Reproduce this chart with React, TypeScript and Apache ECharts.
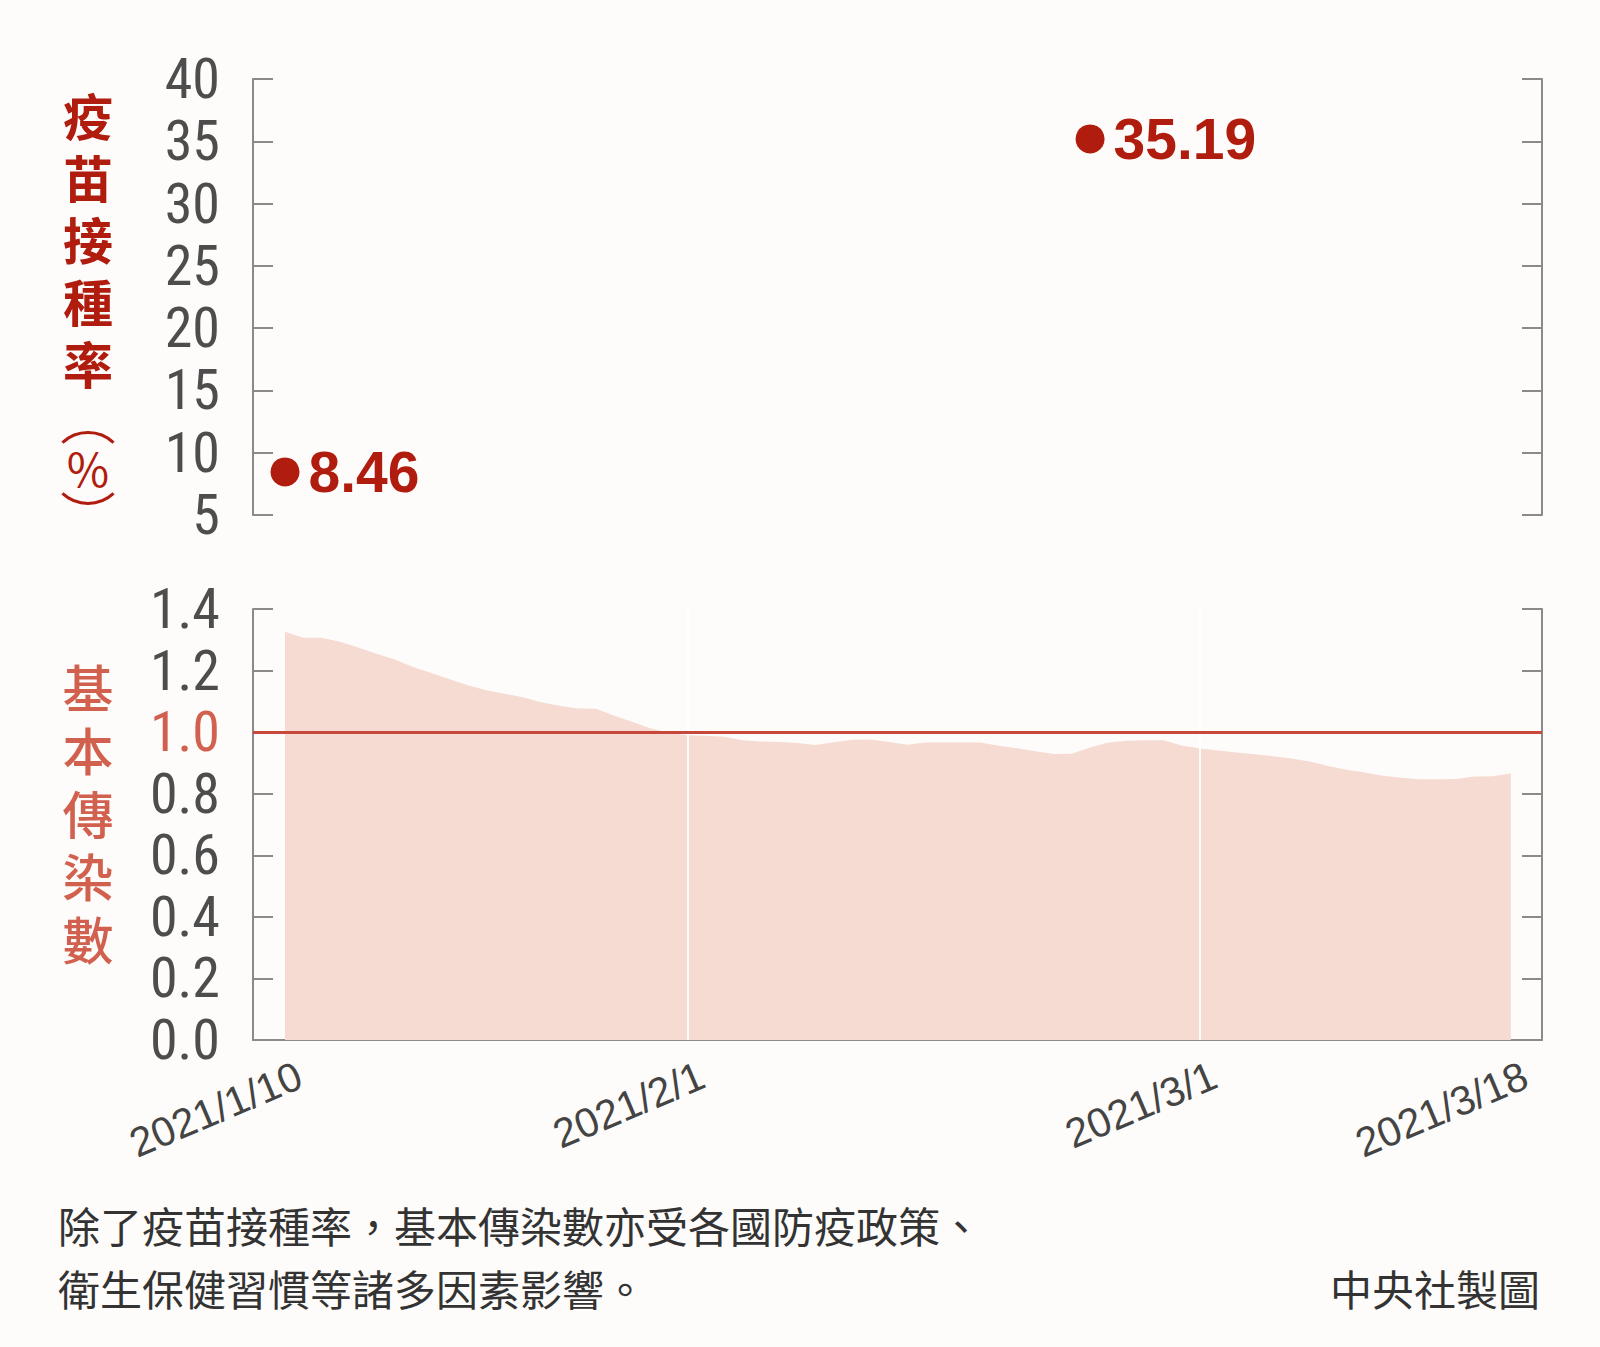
import { useEffect, useRef } from 'react';
import * as echarts from 'echarts';

// 基本傳染數 (Rt), one value per day starting 2021/1/10
const startDate = '2021-01-10';
const rtValues = [
    1.326, 1.307, 1.307, 1.294, 1.275, 1.255, 1.236, 1.212, 1.192, 1.172,
    1.152, 1.136, 1.125, 1.113, 1.097, 1.086, 1.077, 1.076, 1.053, 1.033,
    1.012, 0.998, 0.990, 0.988, 0.985, 0.974, 0.970, 0.968, 0.965, 0.958,
    0.967, 0.975, 0.976, 0.968, 0.959, 0.966, 0.966, 0.966, 0.966, 0.956,
    0.948, 0.938, 0.929, 0.930, 0.950, 0.966, 0.972, 0.974, 0.974, 0.957,
    0.947, 0.940, 0.934, 0.928, 0.922, 0.914, 0.905, 0.890, 0.878, 0.869,
    0.858, 0.852, 0.847, 0.847, 0.848, 0.856, 0.857, 0.866
];

// 疫苗接種率 (%)
const vaccineDates = ['2021-01-10', '2021-02-23'];
const vaccineValues = [8.46, 35.19];

const xLabelDates = ['2021-01-10', '2021-02-01', '2021-03-01', '2021-03-18'];
const xSplitDates = ['2021-02-01', '2021-03-01'];

const rateTicks = { min: 5, max: 40, interval: 5 };
const rtTicks = { min: 0, max: 1.4, interval: 0.2 };

const rateTitle = '疫苗接種率';
const rtTitle = '基本傳染數';
const caption1 = '除了疫苗接種率，基本傳染數亦受各國防疫政策、';
const caption2 = '衛生保健習慣等諸多因素影響。';
const credit = '中央社製圖';

const DAY = 24 * 3600 * 1000;
const utc = (s: string) => {
    const [y, m, d] = s.split('-').map(Number);
    return Date.UTC(y, m - 1, d);
};
// day offset from the first Rt date
const dayIdx = (s: string) => Math.round((utc(s) - utc(startDate)) / DAY);
const dayLabel = (i: number) => {
    const d = new Date(utc(startDate) + Math.round(i) * DAY);
    return `${d.getUTCFullYear()}/${d.getUTCMonth() + 1}/${d.getUTCDate()}`;
};

const DARK_RED = '#b01c0e';
const SOFT_RED = '#d2604e';
const TICK_FONT = '"Liberation Sans Narrow", "Roboto Condensed", "DejaVu Sans Condensed", sans-serif';
const CJK = '"Noto Sans CJK TC", sans-serif';

// one graphic text per character, stacked vertically
const verticalTitle = (chars: string, top: number, pitch: number, font: string, fill: string) =>
    chars.split('').map((ch, i) => ({
        type: 'text',
        x: 88,
        y: top + i * pitch,
        style: { text: ch, font, fill, textAlign: 'center', textVerticalAlign: 'middle' }
    }));

const App = () => {
    const chartRef = useRef<HTMLDivElement | null>(null);

    useEffect(() => {
        document.body.style.margin = '0';
        document.body.style.background = '#fdfcfa';
        if (!chartRef.current) return;
        const chart = echarts.init(chartRef.current, undefined, { renderer: 'svg' });

        const rtData = rtValues.map((v, i) => [i, v]);
        const xMin = -1.75;
        const xMax = rtValues.length - 1 + 1.7;

        const axisLine = { show: true, onZero: false, lineStyle: { color: '#8a8a8a', width: 2 } };
        const axisTick = { show: true, inside: true, length: 20, lineStyle: { color: '#8a8a8a', width: 2 } };
        const tickLabel = { fontFamily: TICK_FONT, fontSize: 56, color: '#4d4d4d', margin: 33 };

        const option = {
            animation: false,
            backgroundColor: '#fdfcfa',
            grid: [
                { left: 253, width: 1289, top: 79, height: 436 },
                { left: 253, width: 1289, top: 609, height: 431 }
            ],
            xAxis: [
                { gridIndex: 0, type: 'value', min: xMin, max: xMax, show: false },
                {
                    gridIndex: 1,
                    type: 'value',
                    min: xMin,
                    max: xMax,
                    axisLine,
                    axisTick: { show: false },
                    splitLine: { show: false },
                    axisLabel: {
                        customValues: xLabelDates.map(dayIdx),
                        formatter: (v: number) => dayLabel(v),
                        rotate: 23,
                        margin: 40,
                        padding: [0, -16, 0, 0],
                        fontSize: 41,
                        color: '#444',
                        fontFamily: '"Liberation Sans", Arial, sans-serif'
                    }
                }
            ],
            yAxis: [
                {
                    gridIndex: 0,
                    type: 'value',
                    position: 'left',
                    ...rateTicks,
                    axisLine,
                    axisTick,
                    splitLine: { show: false },
                    axisLabel: { ...tickLabel, padding: [0, 0, 8, 0] }
                },
                {
                    gridIndex: 0,
                    type: 'value',
                    position: 'right',
                    ...rateTicks,
                    axisLine,
                    axisTick,
                    splitLine: { show: false },
                    axisLabel: { show: false }
                },
                {
                    gridIndex: 1,
                    type: 'value',
                    position: 'left',
                    ...rtTicks,
                    axisLine,
                    axisTick,
                    splitLine: { show: false },
                    axisLabel: {
                        ...tickLabel,
                        formatter: (v: number) => v.toFixed(1),
                        color: (v: any) => (Math.abs(Number(v) - 1) < 1e-6 ? SOFT_RED : '#4d4d4d')
                    }
                },
                {
                    gridIndex: 1,
                    type: 'value',
                    position: 'right',
                    ...rtTicks,
                    axisLine,
                    axisTick,
                    splitLine: { show: false },
                    axisLabel: { show: false }
                }
            ],
            series: [
                {
                    type: 'line',
                    xAxisIndex: 1,
                    yAxisIndex: 2,
                    data: rtData,
                    showSymbol: false,
                    lineStyle: { width: 0 },
                    areaStyle: { color: '#f6dbd2', opacity: 1 },
                    markLine: {
                        silent: true,
                        symbol: 'none',
                        label: { show: false },
                        data: [
                            ...xSplitDates.map((s) => ({ xAxis: dayIdx(s), lineStyle: { color: '#ffffff', width: 2, type: 'solid', opacity: 0.9 } })),
                            { yAxis: 1, lineStyle: { color: '#c8493c', width: 3, type: 'solid', opacity: 1 } }
                        ]
                    }
                },
                {
                    type: 'scatter',
                    xAxisIndex: 0,
                    yAxisIndex: 0,
                    data: vaccineDates.map((s, i) => [dayIdx(s), vaccineValues[i]]),
                    symbolSize: 29,
                    itemStyle: { color: DARK_RED, opacity: 1 },
                    label: {
                        show: true,
                        position: 'right',
                        distance: 9,
                        formatter: (p: any) => p.value[1].toFixed(2),
                        color: DARK_RED,
                        fontSize: 57,
                        fontWeight: 'bold',
                        fontFamily: '"Liberation Sans", Arial, sans-serif'
                    }
                }
            ],
            graphic: [
                ...verticalTitle(rateTitle, 114, 62, `bold 50px ${CJK}`, DARK_RED),
                {
                    type: 'arc',
                    shape: { cx: 88, cy: 470, r: 37.5, startAngle: -Math.PI / 2 - 0.75, endAngle: -Math.PI / 2 + 0.75, clockwise: true },
                    style: { stroke: DARK_RED, lineWidth: 3, fill: 'none' }
                },
                {
                    type: 'text',
                    x: 88,
                    y: 467,
                    style: {
                        text: '%',
                        font: `46px ${CJK}`,
                        fill: DARK_RED,
                        textAlign: 'center',
                        textVerticalAlign: 'middle'
                    }
                },
                {
                    type: 'arc',
                    shape: { cx: 88, cy: 466, r: 37.5, startAngle: Math.PI / 2 - 0.75, endAngle: Math.PI / 2 + 0.75, clockwise: true },
                    style: { stroke: DARK_RED, lineWidth: 3, fill: 'none' }
                },
                ...verticalTitle(rtTitle, 686, 63, `500 51px ${CJK}`, SOFT_RED),
                {
                    type: 'text',
                    x: 58,
                    y: 1224,
                    style: { text: caption1, font: `42px ${CJK}`, fill: '#333', textVerticalAlign: 'middle' }
                },
                {
                    type: 'text',
                    x: 58,
                    y: 1287,
                    style: { text: caption2, font: `42px ${CJK}`, fill: '#333', textVerticalAlign: 'middle' }
                },
                {
                    type: 'text',
                    x: 1540,
                    y: 1287,
                    style: { text: credit, font: `42px ${CJK}`, fill: '#333', textAlign: 'right', textVerticalAlign: 'middle' }
                }
            ]
        };

        chart.setOption(option as any);
        return () => chart.dispose();
    }, []);

    return <div ref={chartRef} style={{ width: 1600, height: 1347 }} />;
};

export default App;
